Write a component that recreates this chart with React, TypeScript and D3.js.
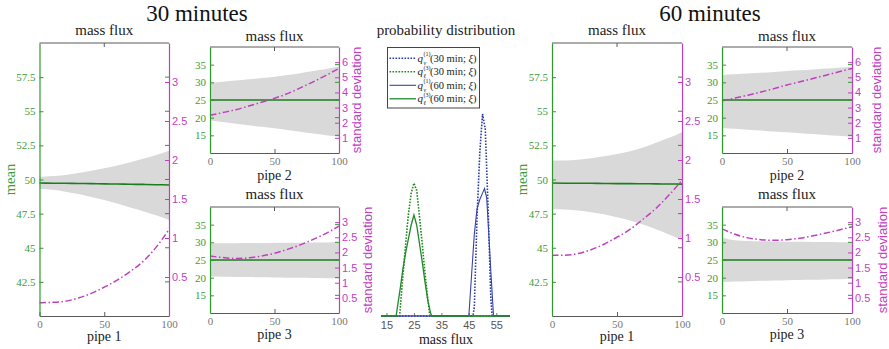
import { useEffect, useRef } from "react";
import * as d3 from "d3";

// positions along each pipe (percent of length)
const pipePositions = [0, 10, 20, 30, 40, 50, 60, 70, 80, 90, 100];
const xTicks = [0, 50, 100];

// 30 minutes
const mean30p1 = [49.74, 49.73, 49.72, 49.71, 49.7, 49.68, 49.67, 49.65, 49.64, 49.62, 49.6];
const std30p1 = [0.17, 0.175, 0.19, 0.23, 0.29, 0.37, 0.46, 0.57, 0.7, 0.88, 1.11];
const hi30p1 = [50.2, 50.25, 50.33, 50.48, 50.65, 50.82, 51.02, 51.27, 51.52, 51.8, 52.11];
const lo30p1 = [49.33, 49.25, 49.11, 48.93, 48.72, 48.5, 48.25, 47.95, 47.68, 47.38, 47.03];

const mean30p2 = [25, 25, 25, 25, 25, 25, 25, 25, 25, 25, 25];
const std30p2 = [2.49, 2.67, 2.86, 3.1, 3.35, 3.61, 3.92, 4.3, 4.7, 5.13, 5.59];
const hi30p2 = [29.9, 30.2, 30.5, 30.85, 31.2, 31.6, 32.1, 32.6, 33.2, 33.8, 34.45];
const lo30p2 = [19.2, 18.75, 18.3, 17.85, 17.4, 17.0, 16.5, 16.0, 15.5, 15.05, 14.6];

const mean30p3 = [25, 25, 25, 25, 25, 25, 25, 25, 25, 25, 25];
const std30p3 = [1.88, 1.83, 1.8, 1.82, 1.88, 1.97, 2.1, 2.25, 2.43, 2.63, 2.87];
const hi30p3 = [29.7, 29.72, 29.75, 29.78, 29.8, 29.83, 29.86, 29.9, 29.93, 29.96, 30.0];
const lo30p3 = [20.3, 20.26, 20.21, 20.16, 20.11, 20.06, 20.01, 19.96, 19.9, 19.85, 19.8];

// 60 minutes
const mean60p1 = [49.74, 49.73, 49.73, 49.72, 49.71, 49.7, 49.7, 49.69, 49.68, 49.67, 49.66];
const std60p1 = [0.78, 0.78, 0.8, 0.85, 0.92, 1.01, 1.11, 1.24, 1.38, 1.55, 1.74];
const hi60p1 = [51.4, 51.4, 51.45, 51.55, 51.7, 51.87, 52.07, 52.35, 52.7, 53.05, 53.46];
const lo60p1 = [47.82, 47.8, 47.72, 47.6, 47.45, 47.23, 47.0, 46.7, 46.35, 45.97, 45.57];

const mean60p2 = [25, 25, 25, 25, 25, 25, 25, 25, 25, 25, 25];
const std60p2 = [3.45, 3.63, 3.82, 4.03, 4.25, 4.49, 4.7, 4.92, 5.14, 5.36, 5.59];
const hi60p2 = [32.1, 32.3, 32.5, 32.7, 32.95, 33.2, 33.4, 33.65, 33.9, 34.15, 34.4];
const lo60p2 = [17.1, 16.85, 16.6, 16.35, 16.1, 15.85, 15.6, 15.35, 15.1, 14.85, 14.6];

const mean60p3 = [25, 25, 25, 25, 25, 25, 25, 25, 25, 25, 25];
const std60p3 = [2.78, 2.6, 2.48, 2.42, 2.4, 2.42, 2.47, 2.55, 2.64, 2.74, 2.85];
const hi60p3 = [31.4, 30.6, 30.4, 30.3, 30.25, 30.2, 30.15, 30.1, 30.1, 30.05, 30.0];
const lo60p3 = [18.8, 18.9, 19.0, 19.1, 19.2, 19.3, 19.35, 19.4, 19.5, 19.55, 19.6];

// probability distributions over mass flux
const qv30X = [13, 46.5, 47, 48, 49, 50, 51, 52, 53, 53.5, 60];
const qv30Y = [0, 0, 0.01, 0.11, 0.18, 0.222, 0.205, 0.12, 0.02, 0, 0];
const ql30X = [13, 19.8, 21, 22, 23, 24, 25, 26, 27, 28, 29, 30, 30.8, 60];
const ql30Y = [0, 0, 0.045, 0.08, 0.112, 0.135, 0.146, 0.138, 0.11, 0.08, 0.048, 0.02, 0, 0];
const qv60X = [13, 45, 46, 47, 48, 49, 50, 50.7, 51.5, 52, 53, 54, 60];
const qv60Y = [0, 0, 0.045, 0.09, 0.118, 0.128, 0.135, 0.14, 0.13, 0.105, 0.05, 0, 0];
const ql60X = [13, 18.5, 19, 20, 21, 22, 23, 24, 25, 26, 27, 28, 29, 30, 31, 31.5, 60];
const ql60Y = [0, 0, 0.01, 0.03, 0.052, 0.07, 0.085, 0.1, 0.111, 0.1, 0.08, 0.06, 0.038, 0.018, 0.004, 0, 0];
const fluxTicks = [15, 25, 35, 45, 55];

const legendSub = ["v", "ℓ", "v", "ℓ"];
const legendSup = ["(1)", "(3)", "(1)", "(3)"];
const legendTail = ["(30 min; ", "(30 min; ", "(60 min; ", "(60 min; "];

const SERIF = "'Liberation Serif', 'Times New Roman', serif";
const SANS = "'Liberation Sans', Arial, sans-serif";
const GREEN = "#2e9a2e";
const GREEN_TEXT = "#3a9c3a";
const GREEN_LINE = "#1b7d1b";
const MAGENTA = "#bf40bf";
const BAND = "#d9d9d9";
const BOX = "#5a5a5a";

interface Panel {
    x0: number; x1: number; y0: number; y1: number;
    meanDomain: [number, number]; meanTicks: number[];
    stdDomain: [number, number]; stdTicks: number[];
    mean: number[]; std: number[]; lo: number[]; hi: number[];
    titleY: number; xlabel: string; xlabelY: number;
    meanLabelX?: number; stdLabelX?: number;
}

function drawPanel(svg: d3.Selection<SVGSVGElement, unknown, null, undefined>, p: Panel) {
    const g = svg.append("g");
    const x = d3.scaleLinear().domain([0, 100]).range([p.x0, p.x1]);
    const yL = d3.scaleLinear().domain(p.meanDomain).range([p.y1, p.y0]);
    const yR = d3.scaleLinear().domain(p.stdDomain).range([p.y1, p.y0]);

    // band
    const area = d3.area<number>()
        .x((_, i) => x(pipePositions[i]))
        .y0((_, i) => yL(p.lo[i]))
        .y1((_, i) => yL(p.hi[i]))
        .curve(d3.curveMonotoneX);
    g.append("path").datum(p.hi).attr("d", area as any).attr("fill", BAND);

    // mean line
    const meanLine = d3.line<number>().x((_, i) => x(pipePositions[i])).y((d) => yL(d)).curve(d3.curveMonotoneX);
    g.append("path").datum(p.mean).attr("d", meanLine as any)
        .attr("fill", "none").attr("stroke", GREEN_LINE).attr("stroke-width", 1.6);

    // std line
    const stdLine = d3.line<number>().x((_, i) => x(pipePositions[i])).y((d) => yR(d)).curve(d3.curveMonotoneX);
    g.append("path").datum(p.std).attr("d", stdLine as any)
        .attr("fill", "none").attr("stroke", MAGENTA).attr("stroke-width", 1.5)
        .attr("stroke-dasharray", "6.5,2.5,1.5,2.5");

    // box top / bottom
    g.append("line").attr("x1", p.x0).attr("x2", p.x1).attr("y1", p.y0).attr("y2", p.y0)
        .attr("stroke", BOX).attr("stroke-width", 1);
    g.append("line").attr("x1", x(50)).attr("x2", x(50)).attr("y1", p.y0).attr("y2", p.y0 + 4)
        .attr("stroke", BOX);

    // bottom axis
    const bx = g.append("g").attr("transform", `translate(0,${p.y1})`)
        .call(d3.axisBottom(x).tickValues(xTicks).tickSizeInner(-4).tickSizeOuter(0).tickPadding(4)
            .tickFormat((d) => String(d)));
    bx.select(".domain").attr("stroke", BOX);
    bx.selectAll(".tick line").attr("stroke", BOX);
    bx.selectAll("text").attr("fill", "#777").style("font-family", SERIF).style("font-size", "11px");

    // left axis
    const lx = g.append("g").attr("transform", `translate(${p.x0},0)`)
        .call(d3.axisLeft(yL).tickValues(p.meanTicks).tickSizeInner(-4).tickSizeOuter(0).tickPadding(4)
            .tickFormat((d) => String(d)));
    lx.select(".domain").attr("stroke", GREEN).attr("stroke-width", 1.2);
    lx.selectAll(".tick line").attr("stroke", GREEN);
    lx.selectAll("text").attr("fill", GREEN_TEXT).style("font-family", SERIF).style("font-size", "11px");

    // green ticks mirrored on right side
    g.selectAll(".gr").data(p.meanTicks).enter().append("line")
        .attr("x1", p.x1 - 4).attr("x2", p.x1).attr("y1", (d) => yL(d)).attr("y2", (d) => yL(d))
        .attr("stroke", GREEN);

    // right axis
    const rx = g.append("g").attr("transform", `translate(${p.x1},0)`)
        .call(d3.axisRight(yR).tickValues(p.stdTicks).tickSizeInner(-4).tickSizeOuter(0).tickPadding(3)
            .tickFormat((d) => String(d)));
    rx.select(".domain").attr("stroke", MAGENTA).attr("stroke-width", 1.2);
    rx.selectAll(".tick line").attr("stroke", MAGENTA);
    rx.selectAll("text").attr("fill", MAGENTA).style("font-family", SANS).style("font-size", "11px");

    // title and x label
    const cx = (p.x0 + p.x1) / 2;
    g.append("text").attr("x", cx).attr("y", p.titleY).attr("text-anchor", "middle")
        .style("font-family", SERIF).style("font-size", "15px").attr("fill", "#222").text("mass flux");
    g.append("text").attr("x", cx).attr("y", p.xlabelY).attr("text-anchor", "middle")
        .style("font-family", SERIF).style("font-size", "14px").attr("fill", "#222").text(p.xlabel);

    if (p.meanLabelX !== undefined) {
        g.append("text").attr("transform", `translate(${p.meanLabelX},${(p.y0 + p.y1) / 2}) rotate(-90)`)
            .attr("text-anchor", "middle").style("font-family", SERIF).style("font-size", "14.5px")
            .attr("fill", GREEN_TEXT).text("mean");
    }
    if (p.stdLabelX !== undefined) {
        g.append("text").attr("transform", `translate(${p.stdLabelX},${(p.y0 + p.y1) / 2}) rotate(-90)`)
            .attr("text-anchor", "middle").style("font-family", SANS).style("font-size", "13px")
            .attr("fill", MAGENTA).text("standard deviation");
    }
}

export default function App() {
    const svgRef = useRef<SVGSVGElement | null>(null);

    useEffect(() => {
        if (!svgRef.current) return;
        const svg = d3.select<SVGSVGElement, unknown>(svgRef.current);
        svg.selectAll("*").remove();

        const big = { meanDomain: [40, 60] as [number, number], meanTicks: [42.5, 45, 47.5, 50, 52.5, 55, 57.5],
            stdDomain: [0, 3.5] as [number, number], stdTicks: [0.5, 1, 1.5, 2, 2.5, 3], y0: 43, y1: 316, titleY: 35, xlabel: "pipe 1", xlabelY: 341 };
        const top = { meanDomain: [10, 40] as [number, number], meanTicks: [15, 20, 25, 30, 35],
            stdDomain: [0, 7] as [number, number], stdTicks: [1, 2, 3, 4, 5, 6], y0: 47, y1: 153, titleY: 41, xlabel: "pipe 2", xlabelY: 180 };
        const bot = { meanDomain: [10, 40] as [number, number], meanTicks: [15, 20, 25, 30, 35],
            stdDomain: [0, 3.5] as [number, number], stdTicks: [0.5, 1, 1.5, 2, 2.5, 3], y0: 207, y1: 313, titleY: 199, xlabel: "pipe 3", xlabelY: 338.5 };

        drawPanel(svg, { ...big, x0: 39.5, x1: 169, mean: mean30p1, std: std30p1, lo: lo30p1, hi: hi30p1, meanLabelX: 15 });
        drawPanel(svg, { ...top, x0: 210, x1: 339, mean: mean30p2, std: std30p2, lo: lo30p2, hi: hi30p2, stdLabelX: 361 });
        drawPanel(svg, { ...bot, x0: 210, x1: 339, mean: mean30p3, std: std30p3, lo: lo30p3, hi: hi30p3, stdLabelX: 372 });
        drawPanel(svg, { ...big, x0: 552, x1: 682, mean: mean60p1, std: std60p1, lo: lo60p1, hi: hi60p1, meanLabelX: 527 });
        drawPanel(svg, { ...top, x0: 722, x1: 852, mean: mean60p2, std: std60p2, lo: lo60p2, hi: hi60p2, stdLabelX: 881 });
        drawPanel(svg, { ...bot, x0: 722, x1: 852, mean: mean60p3, std: std60p3, lo: lo60p3, hi: hi60p3, stdLabelX: 887 });

        // big titles
        svg.append("text").attr("x", 197).attr("y", 21).attr("text-anchor", "middle")
            .style("font-family", SERIF).style("font-size", "23px").attr("fill", "#111").text("30 minutes");
        svg.append("text").attr("x", 710).attr("y", 21).attr("text-anchor", "middle")
            .style("font-family", SERIF).style("font-size", "23px").attr("fill", "#111").text("60 minutes");

        // probability distribution
        const dx = d3.scaleLinear().domain([13, 60]).range([381, 510]);
        const dy = d3.scaleLinear().domain([0, 0.3]).range([316, 43]);
        const dg = svg.append("g");
        dg.append("line").attr("x1", dx(13)).attr("x2", dx(60)).attr("y1", dy(0)).attr("y2", dy(0)).attr("stroke", "#777");
        const fx = dg.append("g").attr("transform", `translate(0,${dy(0)})`)
            .call(d3.axisBottom(dx).tickValues(fluxTicks).tickSizeInner(-3).tickSizeOuter(0).tickPadding(5.5)
                .tickFormat((d) => String(d)));
        fx.select(".domain").remove();
        fx.selectAll(".tick line").attr("stroke", "#777");
        fx.selectAll("text").attr("fill", "#555").style("font-family", SANS).style("font-size", "11px");

        const curves = [
            { xs: qv30X, ys: qv30Y, color: "#2b3aa3", dash: "1.6,1.4", w: 1.6 },
            { xs: ql30X, ys: ql30Y, color: "#1c8a1c", dash: "1.6,1.4", w: 1.6 },
            { xs: qv60X, ys: qv60Y, color: "#3444aa", dash: null, w: 1.1 },
            { xs: ql60X, ys: ql60Y, color: "#22882a", dash: null, w: 1.3 },
        ];
        curves.forEach((c) => {
            const line = d3.line<number>().x((_, i) => dx(c.xs[i])).y((d) => dy(d));
            dg.append("path").datum(c.ys).attr("d", line as any).attr("fill", "none")
                .attr("stroke", c.color).attr("stroke-width", c.w)
                .attr("stroke-dasharray", c.dash ?? null);
        });

        dg.append("text").attr("x", 446).attr("y", 35).attr("text-anchor", "middle")
            .style("font-family", SERIF).style("font-size", "15px").attr("fill", "#222").text("probability distribution");
        dg.append("text").attr("x", 446).attr("y", 344).attr("text-anchor", "middle")
            .style("font-family", SERIF).style("font-size", "14px").attr("fill", "#222").text("mass flux");

        // legend
        const lg = dg.append("g");
        lg.append("rect").attr("x", 387.5).attr("y", 47.5).attr("width", 92).attr("height", 60.5)
            .attr("fill", "#fff").attr("stroke", "#444").attr("stroke-width", 1);
        const rowY = [58.3, 71.8, 85.3, 98.8];
        curves.forEach((c, i) => {
            const y = rowY[i];
            lg.append("line").attr("x1", 389.5).attr("x2", 416).attr("y1", y).attr("y2", y)
                .attr("stroke", c.color).attr("stroke-width", c.w).attr("stroke-dasharray", c.dash ?? null);
            lg.append("text").attr("x", 417.5).attr("y", y + 3.5).style("font-family", SERIF)
                .style("font-size", "11px").style("font-style", "italic").attr("fill", "#222").text("q");
            lg.append("text").attr("x", 423.5).attr("y", y - 2).style("font-family", SERIF)
                .style("font-size", "6px").attr("fill", "#222").text(legendSup[i]);
            lg.append("text").attr("x", 423.5).attr("y", y + 6.5).style("font-family", SERIF)
                .style("font-size", "6px").style("font-style", "italic").attr("fill", "#222").text(legendSub[i]);
            const t = lg.append("text").attr("x", 430).attr("y", y + 3.5).style("font-family", SERIF)
                .style("font-size", "10.5px").attr("fill", "#222");
            t.append("tspan").text(legendTail[i]);
            t.append("tspan").style("font-style", "italic").text("ξ");
            t.append("tspan").text(")");
        });
    }, []);

    return (
        <svg ref={svgRef} width={889} height={349}
            style={{ position: "absolute", left: 0, top: 0, background: "#fff" }} />
    );
}
